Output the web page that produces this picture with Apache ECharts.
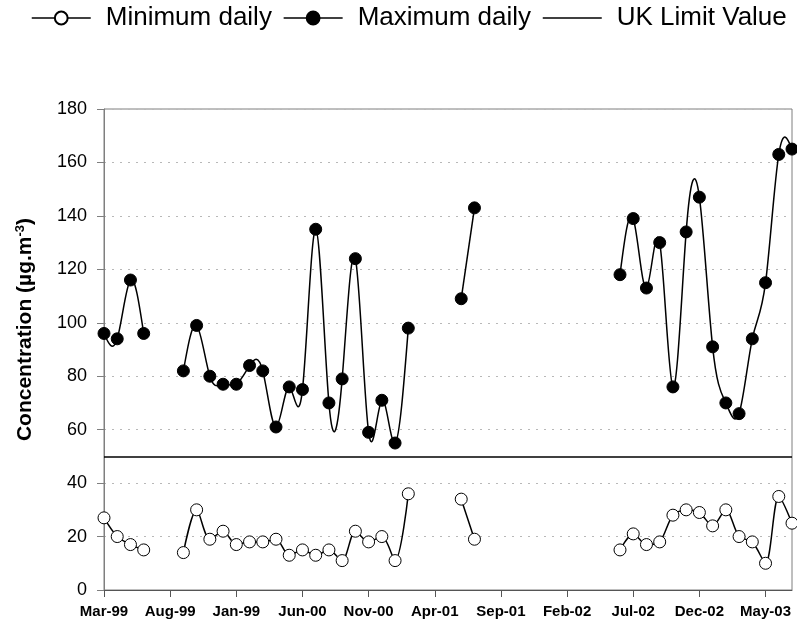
<!DOCTYPE html>
<html>
<head>
<meta charset="utf-8">
<title>Daily concentration</title>
<script src="https://cdn.jsdelivr.net/npm/echarts@6/dist/echarts.min.js"></script>
<style>
  html, body { margin: 0; padding: 0; background: #fff; }
  #chart { width: 797px; height: 628px; }
</style>
</head>
<body>
<div id="chart"></div>
<script>
// Monthly sampling periods, Mar-99 to Jul-03
const months = [
  'Mar-99','Apr-99','May-99','Jun-99','Jul-99','Aug-99','Sep-99','Oct-99','Nov-99','Dec-99',
  'Jan-00','Feb-00','Mar-00','Apr-00','May-00','Jun-00','Jul-00','Aug-00','Sep-00','Oct-00','Nov-00','Dec-00',
  'Jan-01','Feb-01','Mar-01','Apr-01','May-01','Jun-01','Jul-01','Aug-01','Sep-01','Oct-01','Nov-01','Dec-01',
  'Jan-02','Feb-02','Mar-02','Apr-02','May-02','Jun-02','Jul-02','Aug-02','Sep-02','Oct-02','Nov-02','Dec-02',
  'Jan-03','Feb-03','Mar-03','Apr-03','May-03','Jun-03','Jul-03'
];

// Axis labels shown every fifth month
const tickLabels = ['Mar-99','Aug-99','Jan-99','Jun-00','Nov-00','Apr-01','Sep-01','Feb-02','Jul-02','Dec-02','May-03'];

// Minimum daily concentration per month (null = no data)
const minDaily = [
  27, 20, 17, 15, null, null, 14, 30, 19, 22,
  17, 18, 18, 19, 13, 15, 13, 15, 11, 22, 18, 20,
  11, 36, null, null, null, 34, 19, null, null, null, null, null,
  null, null, null, null, null, 15, 21, 17, 18, 28, 30, 29,
  24, 30, 20, 18, 10, 35, 25
];

// Maximum daily concentration per month (null = no data)
const maxDaily = [
  96, 94, 116, 96, null, null, 82, 99, 80, 77,
  77, 84, 82, 61, 76, 75, 135, 70, 79, 124, 59, 71,
  55, 98, null, null, null, 109, 143, null, null, null, null, null,
  null, null, null, null, null, 118, 139, 113, 130, 76, 134, 147,
  91, 70, 66, 94, 115, 163, 165
];

// UK limit value
const limitValue = 50;

const FONT = "'Liberation Sans', Arial, Helvetica, sans-serif";

// Node slopes of a natural cubic spline, computed separately for every
// unbroken run of values (unit spacing between months).
function splineSlopes(values) {
  const slopes = values.map(() => null);
  let i = 0;
  while (i < values.length) {
    if (values[i] == null) { i++; continue; }
    let j = i;
    while (j + 1 < values.length && values[j + 1] != null) j++;
    const y = values.slice(i, j + 1);
    const n = y.length - 1;
    if (n === 0) {
      slopes[i] = 0;
    } else {
      const M = new Array(n + 1).fill(0);
      if (n > 1) {
        const c = new Array(n + 1).fill(0);
        const d = new Array(n + 1).fill(0);
        for (let k = 1; k < n; k++) {
          const r = 6 * (y[k + 1] - 2 * y[k] + y[k - 1]);
          const denom = 4 - (k > 1 ? c[k - 1] : 0);
          c[k] = 1 / denom;
          d[k] = (r - (k > 1 ? d[k - 1] : 0)) / denom;
        }
        for (let k = n - 1; k >= 1; k--) {
          M[k] = d[k] - c[k] * M[k + 1];
        }
      }
      for (let k = 0; k < n; k++) {
        slopes[i + k] = (y[k + 1] - y[k]) - (2 * M[k] + M[k + 1]) / 6;
      }
      slopes[i + n] = (y[n] - y[n - 1]) + (M[n - 1] + 2 * M[n]) / 6;
    }
    i = j + 1;
  }
  return slopes;
}

const maxSlopes = splineSlopes(maxDaily);

// One cubic Bezier piece from month i to month i + 1
function renderSplinePiece(values, slopes) {
  return function (params, api) {
    const i = params.dataIndex;
    if (values[i] == null || i + 1 >= values.length || values[i + 1] == null) return null;
    const p0 = api.coord([i, values[i]]);
    const p3 = api.coord([i + 1, values[i + 1]]);
    const dx = p3[0] - p0[0];
    const c1y = api.coord([i, values[i] + slopes[i] / 3])[1];
    const c2y = api.coord([i + 1, values[i + 1] - slopes[i + 1] / 3])[1];
    return {
      type: 'bezierCurve',
      shape: {
        x1: p0[0], y1: p0[1],
        x2: p3[0], y2: p3[1],
        cpx1: p0[0] + dx / 3, cpy1: c1y,
        cpx2: p3[0] - dx / 3, cpy2: c2y
      },
      style: { stroke: '#000', lineWidth: 1.5, fill: null }
    };
  };
}

const chart = echarts.init(document.getElementById('chart'), null, { renderer: 'canvas' });

chart.setOption({
  animation: false,
  backgroundColor: '#ffffff',
  legend: {
    left: 26,
    top: 0,
    width: 780,
    itemWidth: 59,
    itemHeight: 16,
    itemGap: 11,
    lineStyle: { color: '#000', width: 1.5, opacity: 1 },
    textStyle: { fontFamily: FONT, fontSize: 26, color: '#000', padding: [0, 0, 0, 10] },
    data: [
      'Minimum daily',
      'Maximum daily',
      { name: 'UK Limit Value', itemStyle: { color: 'rgba(0,0,0,0)', borderColor: 'rgba(0,0,0,0)', borderWidth: 0 } }
    ]
  },
  grid: {
    left: 104,
    right: 5,
    top: 109,
    bottom: 38,
    show: true,
    borderColor: '#7f7f7f',
    borderWidth: 1,
    containLabel: false
  },
  xAxis: {
    type: 'category',
    data: months,
    boundaryGap: false,
    axisLine: { lineStyle: { color: '#555', width: 1 } },
    axisTick: { show: true, interval: 4, length: 7, inside: false, lineStyle: { color: '#555' } },
    axisLabel: {
      interval: 4,
      margin: 14,
      fontFamily: FONT,
      fontSize: 15,
      fontWeight: 'bold',
      color: '#000',
      formatter: (value, index) => tickLabels[index / 5]
    },
    splitLine: { show: false }
  },
  yAxis: {
    type: 'value',
    min: 0,
    max: 180,
    interval: 20,
    axisLine: { show: true, lineStyle: { color: '#7f7f7f', width: 1 } },
    axisTick: { show: true, length: 7, lineStyle: { color: '#7f7f7f' } },
    axisLabel: { margin: 17, fontFamily: FONT, fontSize: 18, color: '#000' },
    splitLine: { show: true, lineStyle: { color: '#b8b8b8', type: [2, 6], width: 1 } },
    name: '{a|Concentration (µg.m}{s|-3}{a|)}',
    nameLocation: 'middle',
    nameRotate: 90,
    nameGap: 67,
    nameTextStyle: {
      padding: [0, 0, 0, 40],
      rich: {
        a: { fontFamily: FONT, fontSize: 21, fontWeight: 'bold', color: '#000' },
        s: { fontFamily: FONT, fontSize: 13, fontWeight: 'bold', color: '#000', verticalAlign: 'top', padding: [0, 0, 10, 0] }
      }
    }
  },
  series: [
    {
      name: 'UK Limit Value',
      type: 'line',
      data: [],
      symbol: 'none',
      lineStyle: { color: '#000', width: 1.5 },
      itemStyle: { color: '#000' },
      markLine: {
        silent: true,
        symbol: ['none', 'none'],
        label: { show: false },
        lineStyle: { color: '#000', width: 1.5, type: 'solid' },
        data: [{ yAxis: limitValue }]
      }
    },
    {
      // spline curve through the maximum values
      name: 'Maximum daily curve',
      type: 'custom',
      data: maxDaily.map((v, i) => [i, v]),
      renderItem: renderSplinePiece(maxDaily, maxSlopes),
      silent: true,
      z: 2
    },
    {
      name: 'Maximum daily',
      type: 'line',
      data: maxDaily,
      connectNulls: false,
      symbol: 'circle',
      symbolSize: 12,
      showAllSymbol: true,
      lineStyle: { color: '#000', width: 1.5, opacity: 0 },
      itemStyle: { color: '#000', borderColor: '#000', borderWidth: 1 },
      z: 3
    },
    {
      name: 'Minimum daily',
      type: 'line',
      data: minDaily,
      connectNulls: false,
      smooth: 0.3,
      symbol: 'circle',
      symbolSize: 12,
      showAllSymbol: true,
      lineStyle: { color: '#000', width: 1.5 },
      itemStyle: { color: '#fff', borderColor: '#000', borderWidth: 1 },
      z: 4
    }
  ]
});
</script>
</body>
</html>
